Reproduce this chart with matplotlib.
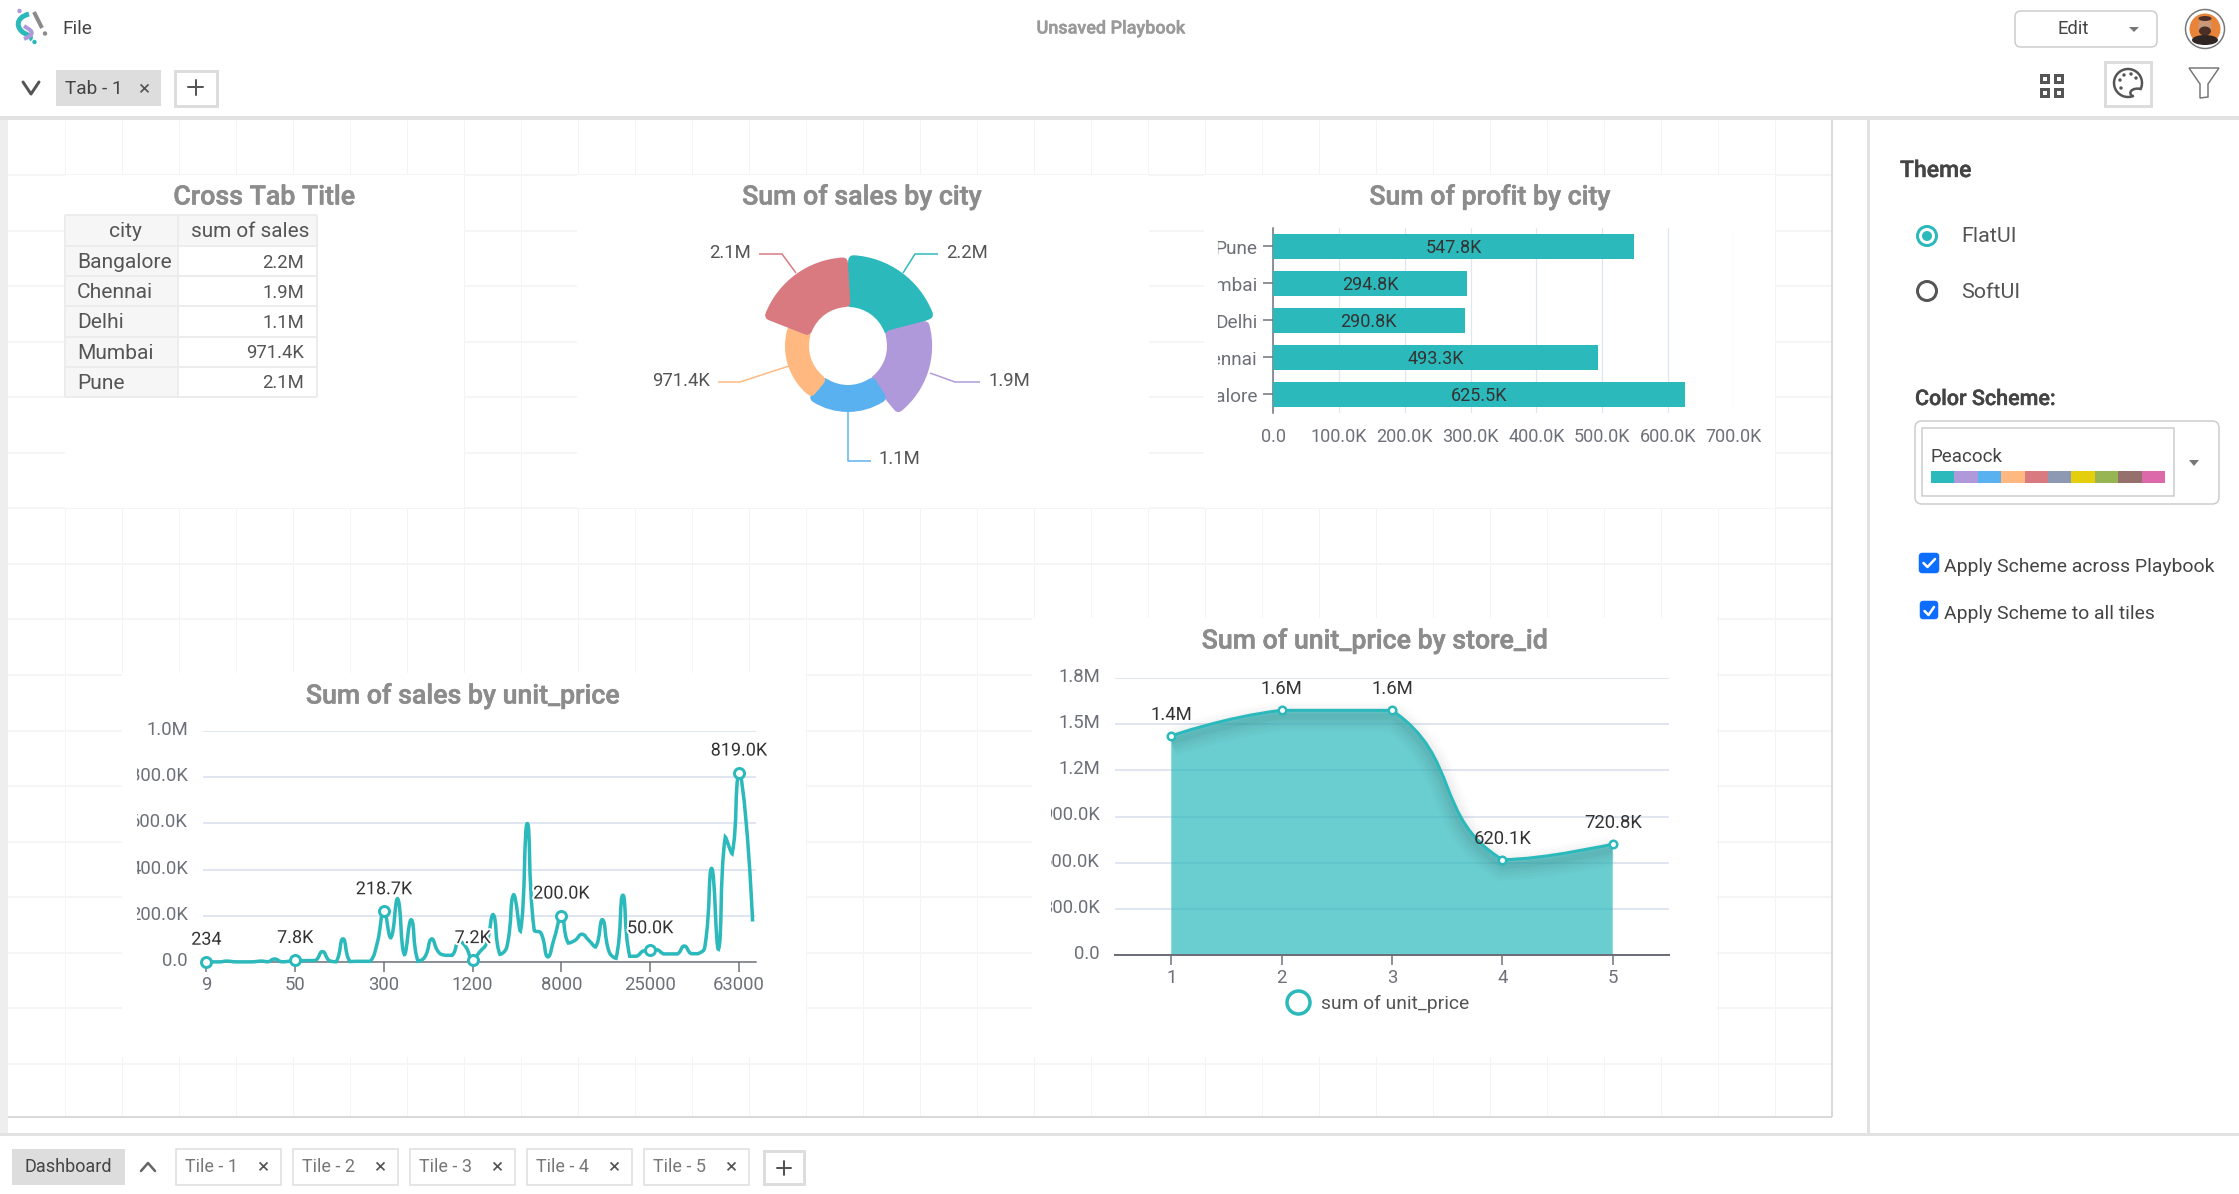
import numpy as np
import matplotlib
matplotlib.use('Agg')
import matplotlib.pyplot as plt
from matplotlib.patches import Rectangle, FancyBboxPatch, Circle, PathPatch, Polygon, Ellipse
from matplotlib.path import Path
from matplotlib.lines import Line2D
from matplotlib.transforms import Affine2D, Bbox
import matplotlib.patheffects as pe

plt.rcParams['font.family'] = ['Roboto', 'DejaVu Sans']

W, H = 2239, 1194
PT = 0.72  # points per pixel at dpi 100

# ---- data ----
palette = ['#2bb9bb', '#af99db', '#5ab1ef', '#ffb980', '#d87a80', '#8d98b3', '#e5cf0d', '#97b552', '#95706d', '#dc69aa']
cities = ['Bangalore', 'Chennai', 'Delhi', 'Mumbai', 'Pune']
sales_values = [2.2e6, 1.9e6, 1.1e6, 971.4e3, 2.1e6]
sales_labels = ['2.2M', '1.9M', '1.1M', '971.4K', '2.1M']
profit_values = [625.5e3, 493.3e3, 290.8e3, 294.8e3, 547.8e3]
profit_labels = ['625.5K', '493.3K', '290.8K', '294.8K', '547.8K']
profit_ticks = [0, 100e3, 200e3, 300e3, 400e3, 500e3, 600e3, 700e3]
profit_ticklabels = ['0.0', '100.0K', '200.0K', '300.0K', '400.0K', '500.0K', '600.0K', '700.0K']
unit_sales = [0.234, 0.5, 0.5, 4, 1, 0.5, 0.5, 1, 4, 1, 13, 1, 3, 7.8, 6, 6, 7, 45, 6, 1,
              100, 2, 3, 3, 3, 80, 218.7, 105, 274, 32, 183, 3, 22, 100, 43, 29, 29, 90, 65, 7.2,
              43, 80, 205, 33, 65, 291, 134, 599, 140, 125, 22, 108, 200, 82, 94, 120, 94, 65, 183, 43,
              16, 289, 25, 25, 48, 50, 53, 35, 35, 35, 69, 36, 36, 65, 405, 55, 541, 469, 819, 623, 175]
unit_labeled = {0: '234', 13: '7.8K', 26: '218.7K', 39: '7.2K', 52: '200.0K', 65: '50.0K', 78: '819.0K'}
unit_xtick = ['9', '50', '300', '1200', '8000', '25000', '63000']
unit_yticks = [0, 200, 400, 600, 800, 1000]
unit_yticklabels = ['0.0', '200.0K', '400.0K', '600.0K', '800.0K', '1.0M']
store_ids = [1, 2, 3, 4, 5]
store_values = [1.424e6, 1.59e6, 1.59e6, 620.1e3, 720.8e3]
store_labels = ['1.4M', '1.6M', '1.6M', '620.1K', '720.8K']
store_yticks = [0, 300e3, 600e3, 900e3, 1200e3, 1500e3, 1800e3]
store_yticklabels = ['0.0', '300.0K', '600.0K', '900.0K', '1.2M', '1.5M', '1.8M']
tile_names = ['Tile - 1', 'Tile - 2', 'Tile - 3', 'Tile - 4', 'Tile - 5']

TEAL = palette[0]
AXC = '#6e7079'
GRID = '#e0e6f1'
TITLE = '#8c8c8c'

fig = plt.figure(figsize=(W / 100, H / 100), dpi=100, facecolor='white')
bg = fig.add_axes([0, 0, 1, 1])
bg.set_xlim(0, W)
bg.set_ylim(H, 0)
bg.axis('off')


def rect(x0, y0, x1, y1, fc='none', ec='none', lw=0, z=1, ax=bg):
    ax.add_patch(Rectangle((x0, y0), x1 - x0, y1 - y0, fc=fc, ec=ec, lw=lw * PT, zorder=z))


def rrect(x0, y0, x1, y1, r, fc='white', ec='#cccccc', lw=1.5, z=3):
    bg.add_patch(FancyBboxPatch((x0, y0), x1 - x0, y1 - y0, boxstyle=f'round,pad=0,rounding_size={r}',
                                fc=fc, ec=ec, lw=lw * PT, zorder=z))


def txt(x, y, s, px=18, c='#444444', ha='left', va='center', w='normal', z=6, **k):
    return bg.text(x, y + 2, s, fontsize=px * PT, color=c, ha=ha, va=va, fontweight=w, zorder=z, **k)


def seg(xs, ys, c='#555555', lw=2, z=5, cap='round', **k):
    bg.plot(xs, ys, color=c, lw=lw * PT, zorder=z, solid_capstyle=cap, **k)


def axpx(x0, y0, x1, y1):
    a = fig.add_axes([x0 / W, 1 - y1 / H, (x1 - x0) / W, (y1 - y0) / H], facecolor='none')
    return a


def clip_left(labels, xpx):
    box = Bbox([[xpx, 0], [W, H]])
    for t in labels:
        t.set_clip_box(box)
        t.set_clip_on(True)


def nudge(labels, dy):
    for t in labels:
        t.set_transform(t.get_transform() + Affine2D().translate(0, dy))


def smooth_path(ax, xs, ys, s=0.5, close_to=None):
    """Bezier through the data points in the manner of an ECharts smooth line."""
    P = ax.transData.transform(np.column_stack([xs, ys]))
    n = len(P)
    verts, codes = [tuple(P[0])], [Path.MOVETO]
    def cp_out(i):
        if i == 0 or i == n - 1:
            return P[i].copy()
        v = P[i + 1] - P[i - 1]
        ln = np.hypot(*(P[i + 1] - P[i]))
        lp = np.hypot(*(P[i] - P[i - 1]))
        r = ln / (ln + lp)
        return P[i] + v * s * r
    def cp_in(i):
        if i == 0 or i == n - 1:
            return P[i].copy()
        v = P[i + 1] - P[i - 1]
        ln = np.hypot(*(P[i + 1] - P[i]))
        lp = np.hypot(*(P[i] - P[i - 1]))
        r = lp / (ln + lp)
        return P[i] - v * s * r
    for i in range(n - 1):
        c1, c2 = cp_out(i), cp_in(i + 1)
        lo, hi = sorted([P[i][1], P[i + 1][1]])
        c1[1] = np.clip(c1[1], lo, hi)
        c2[1] = np.clip(c2[1], lo, hi)
        verts += [tuple(c1), tuple(c2), tuple(P[i + 1])]
        codes += [Path.CURVE4] * 3
    if close_to is not None:
        base0 = ax.transData.transform((xs[-1], close_to))
        base1 = ax.transData.transform((xs[0], close_to))
        verts += [tuple(base0), tuple(base1), tuple(P[0])]
        codes += [Path.LINETO, Path.LINETO, Path.CLOSEPOLY]
    inv = ax.transData.inverted()
    return Path(inv.transform(np.array(verts)), codes)


# ---- canvas, grid ----
rect(0, 120, 8, 1134, fc='#eeeeee', z=1)
for x in np.arange(65, 1832, 57):
    seg([x, x], [120, 1117], c='#f4f4f4', lw=1, z=1, cap='butt')
for y in np.arange(175, 1117, 55.55):
    seg([8, 1832], [y, y], c='#f5f5f5', lw=2, z=1, cap='butt')
tiles = [(65, 175, 464, 508), (577, 175, 1149, 508), (1204, 175, 1775, 508),
         (122, 673, 806, 1057), (1032, 618, 1717, 1057)]
for t in tiles:
    rect(*t, fc='white', z=2)
seg([1832, 1832], [120, 1117], c='#cfcfcf', lw=1.5, z=3, cap='butt')
seg([8, 1832], [1117, 1117], c='#cfcfcf', lw=1.5, z=3, cap='butt')
rect(0, 116, W, 120, fc='#e2e2e2', z=4)
rect(0, 1133, W, 1136, fc='#e2e2e2', z=4)
rect(1867, 118, 1870, 1134, fc='#e2e2e2', z=4)

# ---- top bar ----
teal_logo = Path([(29, 14), (14, 18), (17, 29), (24, 33), (32, 37), (31, 38), (29, 39)],
                 [Path.MOVETO, Path.CURVE4, Path.CURVE4, Path.CURVE4, Path.CURVE4, Path.CURVE4, Path.CURVE4])
bg.add_patch(PathPatch(teal_logo, fc='none', ec=TEAL, lw=5 * PT, zorder=5))
purple_logo = Path([(24, 26), (30, 30), (38, 33), (24, 39)], [Path.MOVETO, Path.CURVE4, Path.CURVE4, Path.CURVE4])
bg.add_patch(PathPatch(purple_logo, fc='none', ec=palette[1], lw=4 * PT, zorder=5))
bg.add_patch(Circle((19.5, 11), 2.2, fc=palette[1], ec='none', zorder=5))
bg.add_patch(Circle((34.5, 42), 2.2, fc=TEAL, ec='none', zorder=5))
seg([34, 42], [12, 28], c='#8a8a8a', lw=4, cap='butt')
bg.add_patch(Circle((45, 33.5), 2.2, fc='#8a8a8a', ec='none', zorder=5))
txt(62, 27, 'File', 19, '#444444')
fat_gray = [pe.withStroke(linewidth=0.3, foreground='#9a9a9a')]
txt(1111, 26.5, 'Unsaved Playbook', 18, '#9a9a9a', ha='center', w='medium', path_effects=fat_gray)
seg([23, 31, 39], [82, 94, 82], c='#555555', lw=3)
rect(56, 70, 161, 106, fc='#dddddd', z=3)
txt(65, 87.5, 'Tab - 1', 19, '#444444')
txt(144, 87.5, '×', 21, '#555555', ha='center')
rect(174.5, 70.5, 216.5, 105.5, fc='white', ec='#dddddd', lw=3, z=3)
seg([188, 203], [87, 87], c='#555555', lw=2)
seg([195.5, 195.5], [79.5, 94.5], c='#555555', lw=2)
rrect(2015, 11, 2157, 47, 6, ec='#cccccc')
txt(2073, 27.5, 'Edit', 18.5, '#444444', ha='center')
bg.add_patch(Polygon([(2129, 27), (2139, 27), (2134, 32)], fc='#777777', ec='none', zorder=5))
bg.add_patch(Circle((2205, 29), 19.5, fc='white', ec='#777777', lw=1.5 * PT, zorder=5))
bg.add_patch(Circle((2205, 29), 15.5, fc='#e8843a', ec='none', zorder=5))
bg.add_patch(Ellipse((2205, 40), 26, 10, fc='#2f2523', ec='none', zorder=6))
bg.add_patch(Ellipse((2205, 26), 13, 17, fc='#c99878', ec='none', zorder=6))
bg.add_patch(Ellipse((2205, 31), 12, 9, fc='#4a3028', ec='none', zorder=6))
bg.add_patch(Ellipse((2205, 18.5), 13, 5, fc='#4a3028', ec='none', zorder=6))
for x0 in (2039, 2053):
    for y0 in (73, 87):
        rect(x0 + 1.5, y0 + 1.5, x0 + 9, y0 + 9, fc='none', ec='#555555', lw=3, z=5)
rect(2105, 62, 2151, 106, fc='white', ec='#dddddd', lw=3, z=3)
th = np.radians(np.linspace(-25, 290, 60))
bg.plot(2128 + 14 * np.cos(th), 83 - 14 * np.sin(th), color='#555555', lw=2.5 * PT, zorder=5)
pal_tail = Path([(2133, 96.5), (2127, 93), (2132, 87), (2141, 89)], [Path.MOVETO, Path.CURVE4, Path.CURVE4, Path.CURVE4])
bg.add_patch(PathPatch(pal_tail, fc='none', ec='#555555', lw=2.5 * PT, zorder=5))
for (a, b) in [(2120, 80), (2124, 75), (2131, 74), (2136, 78), (2121, 88)]:
    bg.add_patch(Circle((a, b), 1.7, fc='#555555', ec='none', zorder=5))
bg.add_patch(Polygon([(2189, 68), (2219, 68), (2208, 84), (2208, 97), (2200, 98), (2200, 84)],
                     fc='none', ec='#777777', lw=1.5 * PT, zorder=5))

# ---- table ----
rows_y = [215, 246, 276, 306, 337, 367, 397]
rect(65, 215, 317, 246, fc='#f6f6f6', z=3)
rect(65, 215, 178, 397, fc='#f6f6f6', z=3)
for y in rows_y:
    seg([65, 317], [y, y], c='#ececec', lw=2, z=4, cap='butt')
for x in (65, 178, 317):
    seg([x, x], [215, 397], c='#ececec', lw=2, z=4, cap='butt')
txt(125, 229.5, 'city', 21, '#555555', ha='center')
txt(250, 229.5, 'sum of sales', 20.8, '#555555', ha='center')
for i, (city, lab) in enumerate(zip(cities, sales_labels)):
    yc = (rows_y[i + 1] + rows_y[i + 2]) / 2 - 0.5
    txt(77, yc, city, 21, '#555555')
    txt(304, yc, lab, 18.5, '#555555', ha='right')

TITLE_PX = 26.7
fat = [pe.withStroke(linewidth=0.4, foreground=TITLE)]
for tx, ty, s in [(264.5, 195, 'Cross Tab Title'), (862, 195, 'Sum of sales by city'),
                  (1490, 195, 'Sum of profit by city'), (463, 694, 'Sum of sales by unit_price'),
                  (1375, 639, 'Sum of unit_price by store_id')]:
    txt(tx, ty, s, TITLE_PX, TITLE, ha='center', w='medium', path_effects=fat)

# ---- rose chart ----
cx, cy = 848, 346
pol = fig.add_axes([(cx - 110) / W, 1 - (cy + 110) / H, 220 / W, 220 / H], projection='polar', facecolor='none')
pol.set_theta_zero_location('N')
pol.set_theta_direction(-1)
pol.set_rlim(0, 110)
pol.axis('off')
R_IN, STROKE = 39, 5
for i, v in enumerate(sales_values):
    outer = 41 + 22.7 * v / 1e6
    mid = np.radians(36 + 72 * i)
    pol.bar(mid, outer - R_IN - 2 * STROKE, width=np.radians(72 - 7), bottom=R_IN + STROKE, color=palette[i],
            edgecolor=palette[i], linewidth=2 * STROKE * PT, joinstyle='round', zorder=3)
leaders = [([903, 915, 938], [273, 254, 254]), ([930, 955, 980], [373, 382, 382]), ([848, 848, 871], [412, 461, 461]),
           ([789, 740, 718], [366, 382, 382]), ([796, 782, 759], [273, 254, 254])]
lab_pos = [(946, 250.5, 'left'), (989, 378.5, 'left'), (878, 457.5, 'left'), (710, 378.5, 'right'), (751, 250.5, 'right')]
for i, ((lx, ly), (tx, ty, ha)) in enumerate(zip(leaders, lab_pos)):
    seg(lx, ly, c=palette[i], lw=1.5, cap='butt')
    txt(tx, ty, sales_labels[i], 18.5, '#555555', ha=ha)

# ---- bar chart ----
a = axpx(1273, 228, 1734, 413)
ypos = np.arange(len(cities))
a.barh(ypos, profit_values, height=0.69, color=TEAL, zorder=3)
for y, v, lab in zip(ypos, profit_values, profit_labels):
    a.annotate(lab, (v / 2, y), xytext=(0, -1.1), textcoords='offset points', ha='center', va='center',
               fontsize=18 * PT, color='#333333', zorder=5)
a.set_xlim(0, 700e3)
a.set_ylim(-0.5, 4.5)
a.set_xticks(profit_ticks, profit_ticklabels)
a.set_yticks(ypos, cities)
a.grid(axis='x', color=GRID, lw=1.2 * PT, zorder=0)
a.set_axisbelow(True)
for s in ('top', 'right', 'bottom'):
    a.spines[s].set_visible(False)
a.spines['left'].set_color(AXC)
a.spines['left'].set_linewidth(1.5 * PT)
a.tick_params(axis='x', length=0, labelsize=18 * PT, labelcolor=AXC, pad=11)
a.tick_params(axis='y', length=7, width=1.5 * PT, color=AXC, labelsize=19 * PT, labelcolor=AXC, pad=4)
clip_left(a.get_yticklabels(), 1218)
nudge(a.get_yticklabels(), -1)

# ---- line chart ----
a = axpx(203, 731, 756, 962)
idx = np.arange(len(unit_sales))
a.set_xlim(-0.5, len(unit_sales) - 0.5)
a.set_ylim(0, 1000)
tick_idx = sorted(unit_labeled)
a.set_xticks(tick_idx, unit_xtick)
a.set_yticks(unit_yticks, unit_yticklabels)
a.grid(axis='y', color=GRID, lw=2 * PT, zorder=0)
a.set_axisbelow(True)
for s in ('top', 'right', 'left'):
    a.spines[s].set_visible(False)
a.spines['bottom'].set_color(AXC)
a.spines['bottom'].set_linewidth(1.5 * PT)
a.tick_params(axis='x', length=7, width=1.5 * PT, color=AXC, labelsize=18.5 * PT, labelcolor=AXC, pad=3)
a.tick_params(axis='y', length=0, labelsize=18.5 * PT, labelcolor=AXC, pad=10.8)
clip_left(a.get_yticklabels(), 137)
nudge(a.get_yticklabels(), 3)
fig.canvas.draw()
a.add_patch(PathPatch(smooth_path(a, idx, unit_sales), fc='none', ec=TEAL, lw=3.5 * PT, zorder=3, clip_on=False))
a.plot(tick_idx, [unit_sales[i] for i in tick_idx], ls='none', marker='o', ms=10 * PT, mfc='white', mec=TEAL,
       mew=3 * PT, zorder=4, clip_on=False)
halo = [pe.withStroke(linewidth=4 * PT, foreground='white')]
for i, lab in unit_labeled.items():
    a.annotate(lab, (i, unit_sales[i]), xytext=(0, 16), textcoords='offset points', ha='center', va='center',
               fontsize=18 * PT, color='#333333', zorder=6, path_effects=halo, annotation_clip=False)

# ---- area chart ----
a = axpx(1115, 678, 1669, 955)
a.set_xlim(0.49, 5.51)
a.set_ylim(0, 1.8e6)
a.set_xticks(store_ids, [str(s) for s in store_ids])
a.set_yticks(store_yticks, store_yticklabels)
a.grid(axis='y', color=GRID, lw=2 * PT, zorder=0)
a.set_axisbelow(True)
for s in ('top', 'right', 'left'):
    a.spines[s].set_visible(False)
a.spines['bottom'].set_color(AXC)
a.spines['bottom'].set_linewidth(2 * PT)
a.tick_params(axis='x', length=7, width=1.5 * PT, color=AXC, labelsize=18.5 * PT, labelcolor=AXC, pad=3)
a.tick_params(axis='y', length=0, labelsize=18.5 * PT, labelcolor=AXC, pad=10.8)
clip_left(a.get_yticklabels(), 1051)
nudge(a.get_yticklabels(), 3)
fig.canvas.draw()
a.add_patch(PathPatch(smooth_path(a, store_ids, store_values, close_to=0), fc=TEAL, alpha=0.7, ec='none', zorder=2))
line_path = smooth_path(a, store_ids, store_values)
shift = a.transData + Affine2D().translate(0, -6)
for lw, al in [(30, .012), (24, .014), (18, .018), (12, .024), (6, .03)]:
    a.add_patch(PathPatch(line_path, fc='none', ec='black', lw=lw * PT, alpha=al, transform=shift, zorder=2.5,
                          clip_on=False))
a.add_patch(PathPatch(line_path, fc='none', ec=TEAL, lw=3 * PT, zorder=3))
store_line, = a.plot(store_ids, store_values, ls='none', marker='o', ms=7.5 * PT, mfc='white', mec=TEAL, mew=2.5 * PT,
                     zorder=4, clip_on=False)
for x, v, lab in zip(store_ids, store_values, store_labels):
    a.annotate(lab, (x, v), xytext=(0, 15), textcoords='offset points', ha='center', va='center',
               fontsize=18.5 * PT, color='#333333', zorder=6, annotation_clip=False)
handle = Line2D([], [], ls='none', marker='o', ms=23 * PT, mfc='white', mec=TEAL, mew=3.5 * PT)
leg = a.legend([handle], ['sum of unit_price'], loc='center left', bbox_to_anchor=(1285, 1003.5),
               bbox_transform=bg.transData, frameon=False, fontsize=19.3 * PT, labelcolor='#555555',
               handletextpad=0.55, borderpad=0, borderaxespad=0, handlelength=1.3)

# ---- side panel ----
txt(1900, 168.5, 'Theme', 23, '#444444', w='medium', path_effects=[pe.withStroke(linewidth=0.3, foreground='#444444')])
bg.add_patch(Circle((1927, 236), 9.5, fc='white', ec=TEAL, lw=3 * PT, zorder=5))
bg.add_patch(Circle((1927, 236), 5, fc=TEAL, ec='none', zorder=6))
txt(1961, 234.5, 'FlatUI', 21.5, '#555555')
bg.add_patch(Circle((1927, 291), 9.5, fc='white', ec='#555555', lw=3 * PT, zorder=5))
txt(1961, 290.5, 'SoftUI', 21.5, '#555555')
txt(1915, 397.5, 'Color Scheme:', 21.5, '#444444', w='medium', path_effects=[pe.withStroke(linewidth=0.3, foreground='#444444')])
rrect(1915, 421, 2219, 504, 7)
rect(1922, 428, 2174, 496, fc='white', ec='#cccccc', lw=1.5, z=4)
txt(1931, 455, 'Peacock', 18.8, '#444444')
sw = (2165 - 1931) / len(palette)
for i, c in enumerate(palette):
    rect(1931 + i * sw, 471, 1931 + (i + 1) * sw, 483, fc=c, z=5)
bg.add_patch(Polygon([(2189, 460), (2199, 460), (2194, 466)], fc='#777777', ec='none', zorder=5))
for (x0, y0, x1, y1, ty, s) in [(1919, 553, 1939, 573, 564.5, 'Apply Scheme across Playbook'),
                                (1920, 601, 1938, 619, 612, 'Apply Scheme to all tiles')]:
    rrect(x0, y0, x1, y1, 3, fc='#0d6efd', ec='#0d6efd', lw=0.5, z=5)
    seg([x0 + 4.5, x0 + 8.5, x1 - 4], [y0 + 10, y0 + 14, y0 + 6], c='white', lw=2.5, z=6)
    txt(1944, ty, s, 19.4, '#444444')

# ---- bottom bar ----
rect(12, 1149, 125, 1185, fc='#dddddd', z=3)
txt(68.5, 1165.5, 'Dashboard', 18, '#444444', ha='center')
seg([141, 148, 155], [1171, 1163, 1171], c='#666666', lw=2.5)
tile_x = [176, 293, 410, 527, 644]
for x0, name in zip(tile_x, tile_names):
    rect(x0, 1149, x0 + 105, 1185, fc='white', ec='#dddddd', lw=1.5, z=3)
    txt(x0 + 9, 1164.5, name, 18, '#777777')
    txt(x0 + 87, 1165.5, '×', 21, '#555555', ha='center')
rect(763.5, 1150.5, 804, 1184, fc='white', ec='#dddddd', lw=3, z=3)
seg([777, 791], [1167.5, 1167.5], c='#555555', lw=2)
seg([784, 784], [1160.5, 1174.5], c='#555555', lw=2)

fig.savefig('out.png', dpi=100, facecolor='white')
